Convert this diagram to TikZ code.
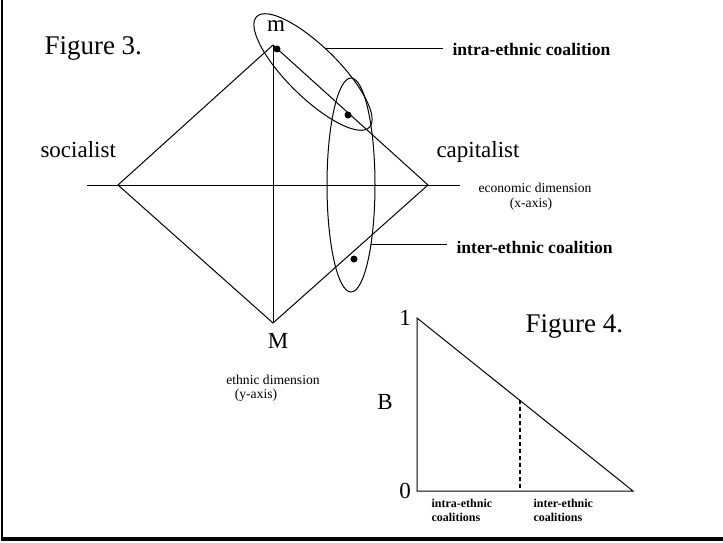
\documentclass[tikz,border=0pt]{standalone}
\usepackage{fontspec}
\setmainfont{Liberation Serif}
\usetikzlibrary{shapes.geometric}
\tikzset{
  blob/.style={circle,fill,inner sep=0pt,minimum size=7pt},
  lab/.style={font=\fontsize{23}{27}\selectfont,inner sep=0pt},
  figlab/.style={font=\fontsize{27}{31}\selectfont,inner sep=0pt},
  sml/.style={font=\fontsize{13.6}{15}\selectfont,inner sep=0pt},
  blab/.style={font=\fontsize{17.6}{20}\selectfont\bfseries,inner sep=0pt},
  sblab/.style={font=\fontsize{12}{14}\selectfont\bfseries,inner sep=0pt,align=left},
  oval/.style={draw,ellipse,inner sep=0pt},
  brk/.style={line width=1.5pt,dash pattern=on 4pt off 3pt},
}

\begin{document}
\begin{tikzpicture}[x=1pt,y=-1pt,line width=1pt]
  \useasboundingbox (0,0) rectangle (723,543);
  % frame
  \draw[line width=2pt] (2,0) -- (2,539);
  \draw[line width=4pt] (1,539) -- (723,539);
  % Figure 3
  \coordinate (top) at (273,45); \coordinate (bot) at (273,323);
  \coordinate (lft) at (118,185); \coordinate (rgt) at (428,185);
  \coordinate (xl) at (87,185); \coordinate (xr) at (460,185);
  \draw (lft) -- (top) -- (rgt) -- (bot) -- cycle;
  \draw (xl) -- (xr); \draw (top) -- (bot);
  \node[blob] (d1) at (277,49) {}; \node[blob] (d2) at (348,115) {};
  \node[blob] (d3) at (354,259) {};
  \node[oval,minimum width=158pt,minimum height=51pt,rotate=-44.5] (e1) at (313,72) {};
  \node[oval,minimum width=48pt,minimum height=214pt] (e2) at (351,185) {};
  \node[figlab,anchor=base west] (fig3) at (44,55) {Figure 3.};
  \node[lab,anchor=base] (m) at (276,32) {m};
  \node[lab,anchor=base] (M) at (278,348) {M};
  \node[lab,anchor=base west] (soc) at (40,157) {socialist};
  \node[lab,anchor=base west] (cap) at (436,157) {capitalist};
  \node[sml,anchor=base] (eco) at (535,192) {economic dimension};
  \node[sml,anchor=base] (xax) at (531,207) {(x-axis)};
  \node[sml,anchor=base] (eth) at (273,384) {ethnic dimension};
  \node[sml,anchor=base] (yax) at (256,398) {(y-axis)};
  \node[blab,anchor=base west] (intra) at (452,56) {intra-ethnic coalition};
  \node[blab,anchor=base west] (inter) at (456,253) {inter-ethnic coalition};
  \coordinate (i1) at ([xshift=-9pt]intra.west); \coordinate (i2) at ([xshift=-9pt]inter.west);
  \draw (e1.105) -- (e1.105 -| i1);
  \draw (e2.-71) -- (e2.-71 -| i2);
  % Figure 4
  \coordinate (o) at (417,491); \coordinate (one) at (417,318);
  \coordinate (end) at (633,491); \coordinate (cut) at (520,400);
  \draw (one) -- (o) -- (end) -- cycle;
  \draw[brk] (cut) -- (cut |- o);
  \node[lab,anchor=base] (y1) at (405,325) {1};
  \node[lab,anchor=base] (y0) at (405,498) {0};
  \node[lab,anchor=base] (B) at (385,409) {B};
  \node[figlab,anchor=base west] (fig4) at (525,332) {Figure 4.};
  \node[sblab,anchor=north west] (lo) at (431,499) {intra-ethnic\\coalitions};
  \node[sblab,anchor=north west] (hi) at (533,499) {inter-ethnic\\coalitions};
\end{tikzpicture}
\end{document}
